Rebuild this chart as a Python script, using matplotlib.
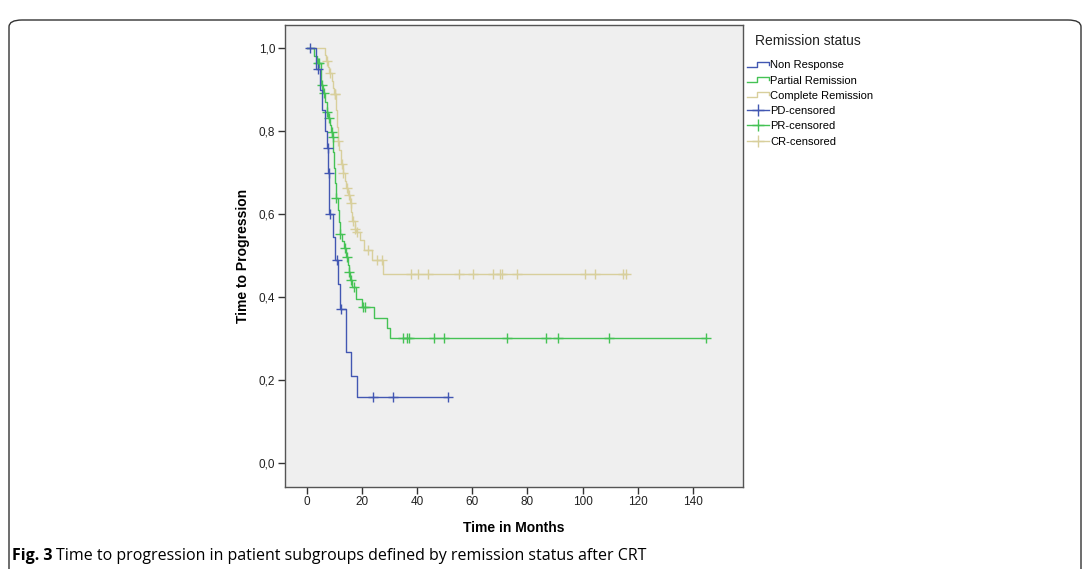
import matplotlib
matplotlib.use('Agg')
import matplotlib.pyplot as plt
import numpy as np
from matplotlib.lines import Line2D
from matplotlib.legend_handler import HandlerBase
from matplotlib.patches import FancyBboxPatch
from matplotlib import font_manager

plt.rcParams['font.family'] = ['Liberation Sans', 'DejaVu Sans']

# Kaplan-Meier steps: event times (months) and survival after each step
nr_times = [3.0, 4.5, 5.5, 6.3, 7.2, 7.6, 8.0, 9.3, 10.0, 11.0, 11.8, 14.1, 15.8, 18.2]
nr_surv = [0.95, 0.90, 0.85, 0.80, 0.76, 0.70, 0.60, 0.545, 0.49, 0.43, 0.37, 0.266, 0.209, 0.158]
nr_cens = [1.0, 4.0, 7.4, 7.9, 8.3, 10.7, 12.2, 24.0, 31.0, 51.0]

pr_times = [2.5, 3.5, 4.8, 5.1, 5.8, 6.5, 7.0, 7.5, 8.3, 8.7, 9.0, 9.4, 9.7, 10.0, 10.3,
            11.0, 11.4, 11.8, 12.7, 13.3, 14.0, 14.8, 15.0, 15.4, 16.2, 17.8, 19.8,
            24.2, 29.1, 30.0]
pr_surv = [0.982, 0.964, 0.93, 0.911, 0.891, 0.87, 0.847, 0.831, 0.815, 0.799, 0.785, 0.75,
           0.71, 0.675, 0.638, 0.61, 0.58, 0.552, 0.535, 0.517, 0.496, 0.478, 0.461, 0.441,
           0.425, 0.396, 0.375, 0.350, 0.324, 0.300]
pr_cens = [4.0, 4.3, 5.3, 6.0, 7.3, 7.8, 8.9, 9.2, 10.6, 12.0, 13.6, 14.5, 15.1, 15.7,
           16.8, 20.3, 21.0, 34.6, 36.2, 37.0, 46.2, 49.5, 72.4, 86.6, 91.0, 109.5, 144.8]

cr_times = [6.3, 6.8, 7.5, 8.0, 8.8, 9.3, 9.7, 10.4, 10.8, 11.1, 11.6, 12.1, 12.3, 12.9,
            13.6, 14.2, 14.7, 15.5, 16.0, 16.3, 17.2, 17.7, 19.1, 20.7, 23.6, 27.4]
cr_surv = [0.984, 0.968, 0.954, 0.94, 0.92, 0.905, 0.89, 0.85, 0.81, 0.775, 0.755, 0.735,
           0.72, 0.70, 0.68, 0.662, 0.645, 0.626, 0.605, 0.582, 0.564, 0.557, 0.538, 0.513,
           0.489, 0.455]
cr_cens = [7.0, 8.3, 9.9, 10.2, 11.3, 12.5, 13.1, 14.4, 15.0, 15.8, 16.5, 17.5, 17.9, 22.2,
           25.2, 27.0, 37.7, 40.3, 43.7, 55.2, 60.1, 67.6, 70.0, 70.8, 76.1, 100.9, 104.5,
           114.6, 115.7]

groups = ['Non Response', 'Partial Remission', 'Complete Remission']
cens_labels = ['PD-censored', 'PR-censored', 'CR-censored']
colors = ['#4257b2', '#45c255', '#d8cf9c']

xticks = [0, 20, 40, 60, 80, 100, 120, 140]
yticks = [0.0, 0.2, 0.4, 0.6, 0.8, 1.0]
ytick_labels = ['0,0', '0,2', '0,4', '0,6', '0,8', '1,0']


class StepHandler(HandlerBase):
    def create_artists(self, legend, orig_handle, xdescent, ydescent, width, height, fontsize, trans):
        x0, y0 = -xdescent, -ydescent
        xs = [x0, x0 + 0.45 * width, x0 + 0.45 * width, x0 + width, x0 + width]
        ys = [y0 + 0.2 * height, y0 + 0.2 * height, y0 + 0.85 * height, y0 + 0.85 * height, y0 + 0.45 * height]
        ln = Line2D(xs, ys, color=orig_handle.get_color(), lw=1.0, transform=trans)
        return [ln]


def km_curve(times, surv, cens):
    end = max(max(times), max(cens))
    t = [0] + list(times) + [end]
    s = [1.0] + list(surv) + [surv[-1]]
    cs = []
    for c in cens:
        idx = np.searchsorted(times, c, side='right')
        cs.append(1.0 if idx == 0 else surv[idx - 1])
    return t, s, cs


fig = plt.figure(figsize=(10.9, 5.69), dpi=100)
ax = fig.add_axes([285 / 1090, 1 - 486.7 / 569, (743 - 285) / 1090, (486.7 - 25) / 569])
ax.set_facecolor('#efefef')

data = [(nr_times, nr_surv, nr_cens), (pr_times, pr_surv, pr_cens), (cr_times, cr_surv, cr_cens)]
# draw order: tan under green under blue
for i in [2, 1, 0]:
    t, s, cs = km_curve(*data[i])
    ax.step(t, s, where='post', color=colors[i], lw=1.0, zorder=2 + (2 - i))
    ax.plot(data[i][2], cs, ls='none', marker='+', ms=7, mew=1.0, color=colors[i], zorder=2 + (2 - i))

ax.set_xlim(-8.1, 158.3)
ax.set_ylim(-0.058, 1.056)
ax.set_xticks(xticks)
ax.set_yticks(yticks)
ax.set_yticklabels(ytick_labels)
ax.tick_params(direction='out', length=5, width=1, colors='#333333', labelsize=8.5, labelcolor='#222222', pad=2)
for sp in ax.spines.values():
    sp.set_color('#555555')
    sp.set_linewidth(1.0)
ax.set_xlabel('Time in Months', fontsize=10, fontweight='bold', labelpad=9)
ax.set_ylabel('Time to Progression', fontsize=10, fontweight='bold', labelpad=6)

handles = [Line2D([], [], color=c) for c in colors]
handles += [Line2D([], [], color=c, marker='+', ms=9, mew=1.0, lw=1.0) for c in colors]
leg = fig.legend(handles, groups + cens_labels, loc='upper left', bbox_to_anchor=(0.6812, 1 - 56 / 569),
                 frameon=False, fontsize=8, handlelength=2.0, handletextpad=0.1, labelspacing=0.47,
                 numpoints=1, borderaxespad=0,
                 handler_map={h: StepHandler() for h in handles[:3]})
fig.text(755 / 1090, 1 - 41 / 569, 'Remission status', fontsize=10, va='center', ha='left', color='#222222')

# outer rounded frame
frame = FancyBboxPatch((9 / 1090, -0.05), (1081 - 9) / 1090, (559 / 569) + 0.05 - 10 / 569,
                       boxstyle='round,pad=0,rounding_size=0.012', transform=fig.transFigure,
                       fill=False, ec='#333333', lw=1.0, clip_on=False)
fig.patches.append(frame)

cap_font = 'Liberation Sans Narrow'
names = {f.name for f in font_manager.fontManager.ttflist}
if cap_font not in names:
    cap_font = 'Open Sans'
t1 = fig.text(12 / 1090, 1 - 560 / 569, 'Fig. 3', fontsize=11.5, fontweight='bold', family=cap_font,
              va='baseline', ha='left')
fig.canvas.draw()
bb = t1.get_window_extent()
fig.text((bb.x1 + 4) / 1090, 1 - 560 / 569, 'Time to progression in patient subgroups defined by remission status after CRT',
         fontsize=11.5, family=cap_font, va='baseline', ha='left')

fig.savefig('out.png', dpi=100)
